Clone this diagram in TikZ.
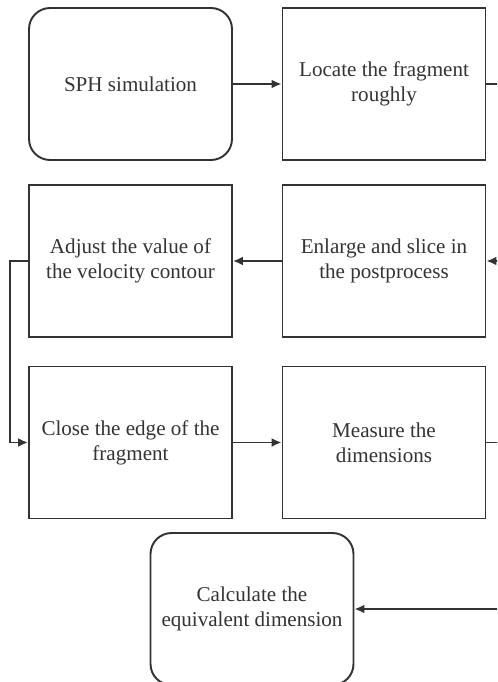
\documentclass[tikz,border=0pt]{standalone}
\usepackage{fontspec}
\setmainfont{Liberation Serif}
\usetikzlibrary{arrows.meta}

\tikzset{
  stepbox/.style={draw=black!80, line width=1.1pt, minimum width=4.06cm, minimum height=3.04cm, align=center, text=black!80, font=\fontsize{12}{14.4}\selectfont},
  roundbox/.style={stepbox, rounded corners=0.42cm},
  flow/.style={draw=black!80, line width=1.1pt, -{Latex[length=2mm,width=1.8mm]}},
  line/.style={draw=black!80, line width=1.1pt}
}

\begin{document}
\begin{tikzpicture}[x=0.02cm, y=-0.02cm]

\useasboundingbox (0,0) rectangle (497,682);
\clip (0,0) rectangle (497,682);

\node [roundbox] (sph) at (130.5,84) {SPH simulation};
\node [stepbox] (locate) at (384,84) {Locate the fragment\\roughly};
\node [stepbox] (adjust) at (130.5,261) {Adjust the value of\\the velocity contour};
\node [stepbox] (enlarge) at (384,261) {Enlarge and slice in\\the postprocess};
\node [stepbox] (close) at (130.5,442.5) {Close the edge of the\\fragment};
\node [stepbox] (measure) at (384,442.5) {Measure the\\dimensions};
\node [roundbox] (calc) at (252,609) {Calculate the\\equivalent dimension};

\coordinate (r1) at (510,84);
\coordinate (r2) at (510,261);
\coordinate (r3) at (510,442.5);
\coordinate (r4) at (510,609);
\coordinate (l1) at (10,261);
\coordinate (l2) at (10,442.5);

\draw [flow] (sph) -- (locate);
\draw [line] (locate) -- (r1) -- (r2);
\draw [flow] (r2) -- (enlarge);
\draw [flow] (enlarge) -- (adjust);
\draw [flow] (adjust) -- (l1) -- (l2) -- (close);
\draw [flow] (close) -- (measure);
\draw [line] (measure) -- (r3) -- (r4);
\draw [flow] (r4) -- (calc);

\end{tikzpicture}
\end{document}
